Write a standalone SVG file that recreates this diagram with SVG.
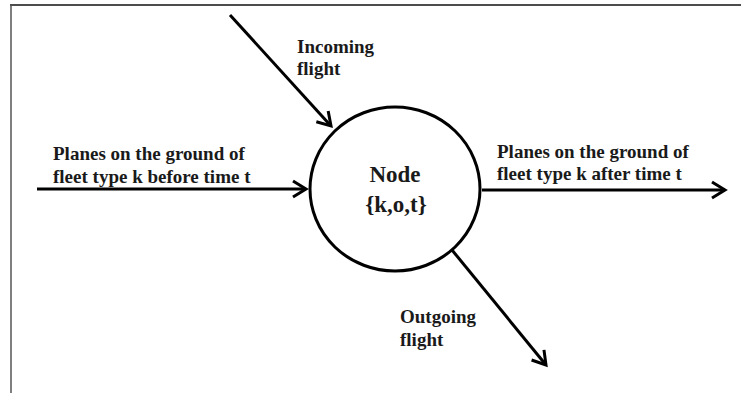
<svg xmlns="http://www.w3.org/2000/svg" width="741" height="393" viewBox="0 0 741 393">
  <style>
    .lbl { font-family: "Liberation Serif", "Times New Roman", serif; font-weight: bold; font-size: 19px; fill: #1a1a1a; }
    .node { font-family: "Liberation Serif", "Times New Roman", serif; font-weight: bold; font-size: 23px; fill: #1a1a1a; text-anchor: middle; }
    .edge { stroke: #000; stroke-width: 3; fill: none; marker-end: url(#arr); }
  </style>
  <defs>
    <marker id="arr" markerUnits="userSpaceOnUse" markerWidth="20" markerHeight="20" viewBox="-16 -10 20 20" refX="0" refY="0" orient="auto">
      <path d="M-13,-8 L0,0 L-13,8" fill="none" stroke="#000" stroke-width="3" stroke-linejoin="miter"/>
    </marker>
  </defs>
  <rect width="741" height="393" fill="#fff"/>
  <g id="frame">
    <line x1="10" y1="5" x2="741" y2="5" stroke="#111" stroke-width="1.5"/>
    <line x1="11" y1="5" x2="11" y2="393" stroke="#555" stroke-width="1.5"/>
  </g>
  <g id="connectors">
    <line class="edge" x1="230" y1="15" x2="331" y2="126"/>
    <line class="edge" x1="37" y1="189" x2="306" y2="189"/>
    <line class="edge" x1="482" y1="190" x2="725" y2="190"/>
    <line class="edge" x1="452" y1="250" x2="546" y2="365"/>
  </g>
  <g id="node">
    <ellipse cx="395" cy="189" rx="85" ry="82" fill="#fff" stroke="#000" stroke-width="3"/>
    <text class="node" x="395" y="182">Node</text>
    <text class="node" x="396" y="212">{k,o,t}</text>
  </g>
  <g id="label-incoming">
    <text class="lbl" x="297" y="53">Incoming</text>
    <text class="lbl" x="297" y="75">flight</text>
  </g>
  <g id="label-before">
    <text class="lbl" x="53" y="160">Planes on the ground of</text>
    <text class="lbl" x="53" y="183">fleet type k before time t</text>
  </g>
  <g id="label-after">
    <text class="lbl" x="497" y="158">Planes on the ground of</text>
    <text class="lbl" x="497" y="180">fleet type k after time t</text>
  </g>
  <g id="label-outgoing">
    <text class="lbl" x="400" y="323">Outgoing</text>
    <text class="lbl" x="400" y="346">flight</text>
  </g>
</svg>
